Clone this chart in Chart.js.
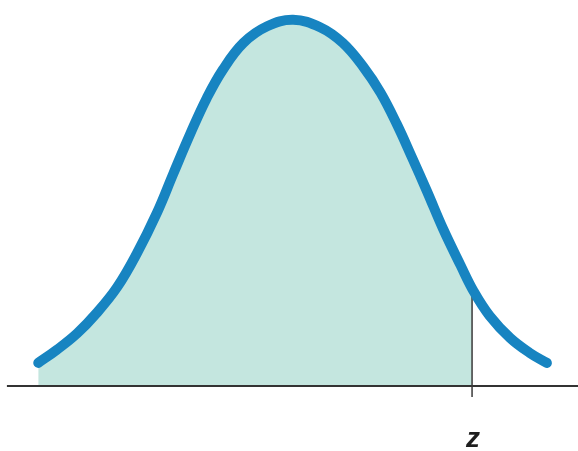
<!DOCTYPE html>
<html>
<head>
<meta charset="utf-8">
<script src="https://cdn.jsdelivr.net/npm/chart.js@4"></script>
<style>
  html, body { margin: 0; padding: 0; background: #ffffff; }
  #curve { display: block; }
</style>
</head>
<body>
<canvas id="curve" width="578" height="451"></canvas>
<script>
// Standard normal curve, shaded to the left of z
const zValues = [-2.35, -2.18, -1.99, -1.81, -1.62, -1.44, -1.25, -1.10, -0.94, -0.79, -0.64, -0.45, -0.23, 0.01,
                 0.26, 0.47, 0.66, 0.82, 0.97, 1.11, 1.25, 1.40, 1.56, 1.68, 1.83, 2.02, 2.20, 2.36];
const heights = [0.025, 0.039, 0.057, 0.079, 0.107, 0.143, 0.188, 0.230, 0.274, 0.312, 0.343, 0.372, 0.390, 0.397,
                 0.389, 0.372, 0.346, 0.318, 0.284, 0.248, 0.211, 0.170, 0.131, 0.103, 0.076, 0.052, 0.036, 0.025];
const zCut = 1.667;         // where the shading stops
const cutHeight = 0.104;    // curve height at z
const zLabel = "z";
const axisEnds = [-2.64, 2.65];

const curvePoints = zValues.map((z, i) => ({ x: z, y: heights[i] }));
const shadedPoints = curvePoints.filter(p => p.x <= zCut).concat([{ x: zCut, y: cutHeight }]);

const ctx = document.getElementById("curve").getContext("2d");

// writes the z under the tick
const zLabelPlugin = {
    id: 'zLabel',
    afterDraw: (chart) => {
        const { ctx, scales } = chart;
        const x = scales.x.getPixelForValue(zCut);
        const y = scales.y.getPixelForValue(-0.058);
        ctx.save();
        ctx.font = "italic bold 28px 'Liberation Sans', Arial, sans-serif";
        ctx.fillStyle = "#1e1e1e";
        ctx.textAlign = "center";
        ctx.textBaseline = "middle";
        ctx.fillText(zLabel, x + 1, y);
        ctx.restore();
    }
};

new Chart(ctx, {
    type: "scatter",
    data: {
        datasets: [
            {
                // the bell curve itself
                data: curvePoints,
                showLine: true,
                borderColor: "#1784c1",
                borderWidth: 10,
                borderCapStyle: "round",
                tension: 0.4,
                pointRadius: 0,
                fill: false,
                order: 1
            },
            {
                // tick at z
                data: [{ x: zCut, y: -0.012 }, { x: zCut, y: cutHeight }],
                showLine: true,
                borderColor: "#3a3a3a",
                borderWidth: 1.5,
                pointRadius: 0,
                fill: false,
                order: 2
            },
            {
                // horizontal axis
                data: [{ x: axisEnds[0], y: 0 }, { x: axisEnds[1], y: 0 }],
                showLine: true,
                borderColor: "#333333",
                borderWidth: 2,
                pointRadius: 0,
                fill: false,
                order: 3
            },
            {
                // shaded area under the curve, left of z
                data: shadedPoints,
                showLine: true,
                borderWidth: 0,
                borderColor: "rgba(0,0,0,0)",
                backgroundColor: "#c4e6df",
                tension: 0.4,
                pointRadius: 0,
                fill: { value: 0 },
                order: 4
            }
        ]
    },
    options: {
        responsive: false,
        animation: false,
        layout: { padding: 0 },
        plugins: {
            legend: { display: false },
            tooltip: { enabled: false }
        },
        scales: {
            x: { type: "linear", display: false, min: -2.704, max: 2.648 },
            y: { type: "linear", display: false, min: -0.0705, max: 0.4185 }
        }
    },
    plugins: [zLabelPlugin]
});
</script>
</body>
</html>
